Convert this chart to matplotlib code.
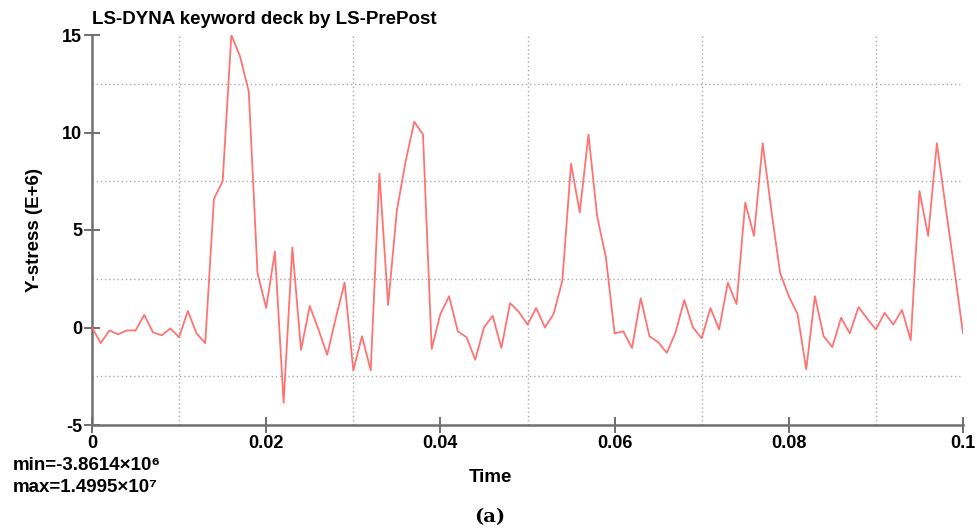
import numpy as np
import matplotlib.pyplot as plt

# Y-stress history of the element (units of E+6), sampled every 1 ms
time_ms = list(range(0, 101))
y_stress = [
    0.0, -0.8, -0.15, -0.35, -0.15, -0.15, 0.65, -0.25, -0.4, -0.05,
    -0.5, 0.85, -0.3, -0.8, 6.6, 7.5, 14.995, 13.9, 12.1, 2.8,
    1.0, 3.9, -3.8614, 4.1, -1.15, 1.1, -0.1, -1.4, 0.5, 2.3,
    -2.2, -0.45, -2.2, 7.9, 1.15, 6.0, 8.5, 10.55, 9.9, -1.1,
    0.7, 1.6, -0.2, -0.5, -1.65, 0.0, 0.6, -1.05, 1.25, 0.8,
    0.15, 1.0, 0.0, 0.7, 2.4, 8.4, 5.9, 9.9, 5.7, 3.6,
    -0.3, -0.2, -1.05, 1.5, -0.45, -0.75, -1.3, -0.25, 1.4, 0.0,
    -0.55, 1.0, -0.1, 2.3, 1.2, 6.4, 4.7, 9.45, 6.0, 2.8,
    1.6, 0.7, -2.15, 1.6, -0.45, -1.0, 0.5, -0.3, 1.05, 0.45,
    -0.1, 0.75, 0.15, 0.9, -0.65, 7.0, 4.7, 9.45, 6.2, 3.0,
    -0.3,
]
x_ticks = [0, 0.02, 0.04, 0.06, 0.08, 0.1]
x_tick_labels = ['0', '0.02', '0.04', '0.06', '0.08', '0.1']
y_ticks = [-5, 0, 5, 10, 15]

t = np.array(time_ms) / 1000.0
s = np.array(y_stress)

plt.rcParams['font.family'] = ['Liberation Sans', 'DejaVu Sans']
plt.rcParams['axes.unicode_minus'] = False

fig = plt.figure(figsize=(9.77, 5.31), dpi=100)
ax = fig.add_axes([92 / 977, 106 / 531, 871 / 977, 390 / 531])

ax.plot(t, s, color='#ff6464', lw=1.3, alpha=0.9, zorder=3)

ax.set_xlim(0, 0.1)
ax.set_ylim(-5, 15)
ax.set_xticks(x_ticks)
ax.set_xticklabels(x_tick_labels)
ax.set_yticks(y_ticks)
ax.set_xticks([0.01, 0.03, 0.05, 0.07, 0.09], minor=True)
ax.set_yticks([-2.5, 2.5, 7.5, 12.5], minor=True)
ax.grid(which='minor', color='#aaaaaa', linestyle=(0, (1, 2)), lw=1.0)
ax.grid(which='major', visible=False)

for side in ['top', 'right']:
    ax.spines[side].set_visible(False)
for side in ['left', 'bottom']:
    ax.spines[side].set_color('#707070')
    ax.spines[side].set_linewidth(1.8)

ax.tick_params(which='major', direction='inout', length=12, width=1.2,
               color='#555555', labelsize=13, pad=1)
ax.tick_params(which='minor', length=0)
for lbl in ax.get_xticklabels() + ax.get_yticklabels():
    lbl.set_fontweight('bold')

ax.set_ylabel('Y-stress (E+6)', fontsize=13.5, fontweight='bold', labelpad=14)

fig.text(490 / 977, 1 - 478 / 531, 'Time', fontsize=13.5, fontweight='bold',
         ha='center', va='center')

fig.text(92 / 977, 1 - 20 / 531, 'LS-DYNA keyword deck by LS-PrePost',
         fontsize=13.5, fontweight='bold', ha='left', va='center')

smin = s.min()
smax = s.max() * 1e6
fig.text(13 / 977, 1 - 465 / 531,
         'min=%.4f\u00d710\u2076' % smin,
         fontsize=13.5, fontweight='bold', ha='left', va='center')
fig.text(13 / 977, 1 - 487 / 531,
         'max=%.4f\u00d710\u2077' % (smax / 1e7),
         fontsize=13.5, fontweight='bold', ha='left', va='center')

fig.text(490 / 977, 1 - 517 / 531, '(a)', fontsize=14, fontweight='bold',
         family=['DejaVu Serif'], ha='center', va='center')

fig.savefig('out.png', dpi=100)
